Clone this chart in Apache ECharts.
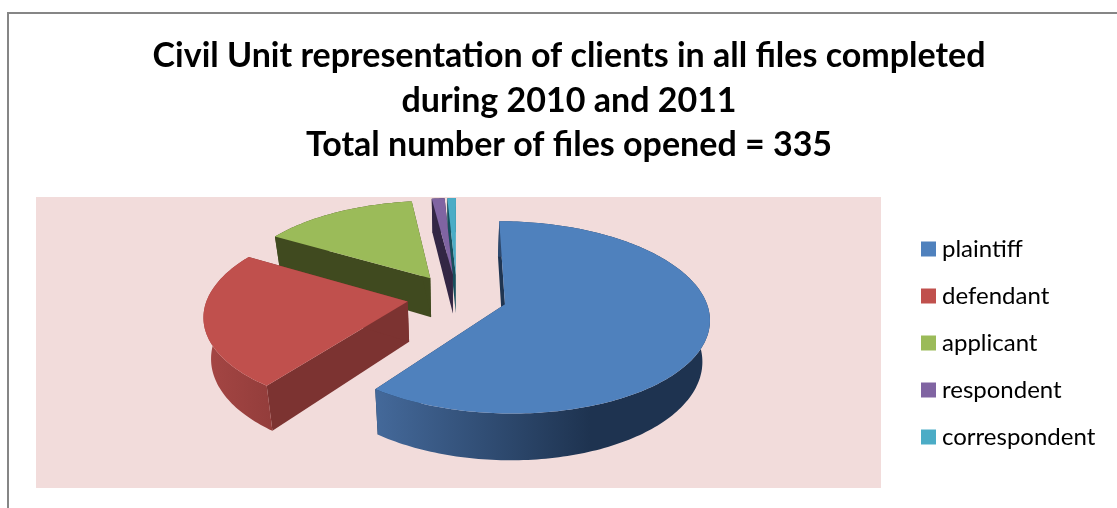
<!DOCTYPE html>
<html>
<head>
<meta charset="utf-8">
<title>Civil Unit representation of clients</title>
<style>
  html, body { margin: 0; padding: 0; background: #fff; }
  #chart { width: 1117px; height: 508px; }
</style>
</head>
<body>
<div id="chart"></div>
<script src="https://cdn.jsdelivr.net/npm/echarts@6/dist/echarts.min.js"></script>
<script>
const categories = ['plaintiff', 'defendant', 'applicant', 'respondent', 'correspondent']
const values = [60.2, 23.3, 14.5, 1.2, 0.8]
const topColors = ['#4f81bd', '#c0504d', '#9bbb59', '#8064a2', '#4bacc6']
const sideColors = ['#1f3552', '#7c3331', '#404a1f', '#332644', '#17505e']
// outer wall shading, light end then dark end
const wallColors = [['#44699a', '#1e3350'], ['#a54644', '#933d3b'], ['#404a1f', '#404a1f'], ['#332644', '#332644'], ['#17505e', '#17505e']]

const titleText = 'Civil Unit representation of clients in all files completed\nduring 2010 and 2011\nTotal number of files opened = 335'

// fake 3D: a disc seen in perspective
const cx = 457, cy = 297, R = 200
const tilt = 0.462, persp = 0.134, depth = 40, shrink = 0.03, explode = 0.25

const total = values.reduce((a, b) => a + b, 0)

function project (x, y, z) {
  const k = 1 / (1 - persp * y)
  return [cx + R * x * k * (1 - shrink * z), cy + R * y * tilt * k + depth * k * z]
}

function sliceAngles (idx) {
  let start = 0
  for (let i = 0; i < idx; i++) start += values[i] / total * Math.PI * 2
  return [start, start + values[idx] / total * Math.PI * 2]
}

function renderSlice (idx) {
  const [a0, a1] = sliceAngles(idx)
  const mid = (a0 + a1) / 2
  const ox = explode * Math.sin(mid)
  const oy = -explode * Math.cos(mid)
  const topArc = []
  const lowArc = []
  const steps = Math.max(2, Math.ceil((a1 - a0) / 0.02))
  for (let i = 0; i <= steps; i++) {
    const a = a0 + (a1 - a0) * i / steps
    const x = ox + Math.sin(a)
    const y = oy - Math.cos(a)
    topArc.push(project(x, y, 0))
    lowArc.push(project(x, y, 1))
  }
  const apexTop = project(ox, oy, 0)
  const apexLow = project(ox, oy, 1)
  const wall = wallColors[idx]
  const wallX = idx === 0 ? [376, 590] : [205, 272]
  const children = [
    {
      type: 'polygon',
      shape: { points: [apexTop, topArc[0], lowArc[0], apexLow] },
      style: { fill: sideColors[idx] }
    },
    {
      type: 'polygon',
      shape: { points: [apexTop, topArc[steps], lowArc[steps], apexLow] },
      style: { fill: sideColors[idx] }
    },
    {
      type: 'polygon',
      shape: { points: topArc.concat(lowArc.slice().reverse()) },
      style: {
        fill: new echarts.graphic.LinearGradient(wallX[0], 0, wallX[1], 0, [
          { offset: 0, color: wall[0] },
          { offset: 1, color: wall[1] }
        ], true)
      }
    },
    {
      type: 'polygon',
      shape: { points: [apexTop].concat(topArc) },
      style: { fill: topColors[idx] }
    }
  ]
  return { type: 'group', children }
}

const chart = echarts.init(document.getElementById('chart'), null, { renderer: 'canvas' })

chart.setOption({
  animation: false,
  backgroundColor: '#ffffff',
  title: {
    text: titleText,
    left: 564,
    top: 29,
    textAlign: 'center',
    textStyle: {
      fontFamily: 'Lato',
      fontSize: 34,
      fontWeight: 'bold',
      color: '#000000',
      lineHeight: 44.5
    }
  },
  legend: {
    orient: 'vertical',
    left: 916,
    top: 232,
    icon: 'rect',
    itemWidth: 15,
    itemHeight: 15,
    itemGap: 23,
    data: categories,
    selectedMode: false,
    textStyle: {
      fontFamily: 'Lato',
      fontSize: 24,
      color: '#000000',
      lineHeight: 24,
      padding: [0, 0, 0, 1]
    }
  },
  graphic: [
    { type: 'rect', shape: { x: 36, y: 197, width: 845, height: 291 }, style: { fill: '#f2dcdb' }, silent: true },
    { type: 'rect', shape: { x: 7, y: 12, width: 2, height: 496 }, style: { fill: '#868686' }, silent: true },
    { type: 'rect', shape: { x: 7, y: 12, width: 1110, height: 2 }, style: { fill: '#868686' }, silent: true }
  ],
  series: categories.map((name, idx) => ({
    name,
    type: 'custom',
    coordinateSystem: 'none',
    silent: true,
    z: 10 - idx,
    itemStyle: { color: topColors[idx] },
    data: [values[idx]],
    renderItem: () => renderSlice(idx)
  }))
})
</script>
</body>
</html>
